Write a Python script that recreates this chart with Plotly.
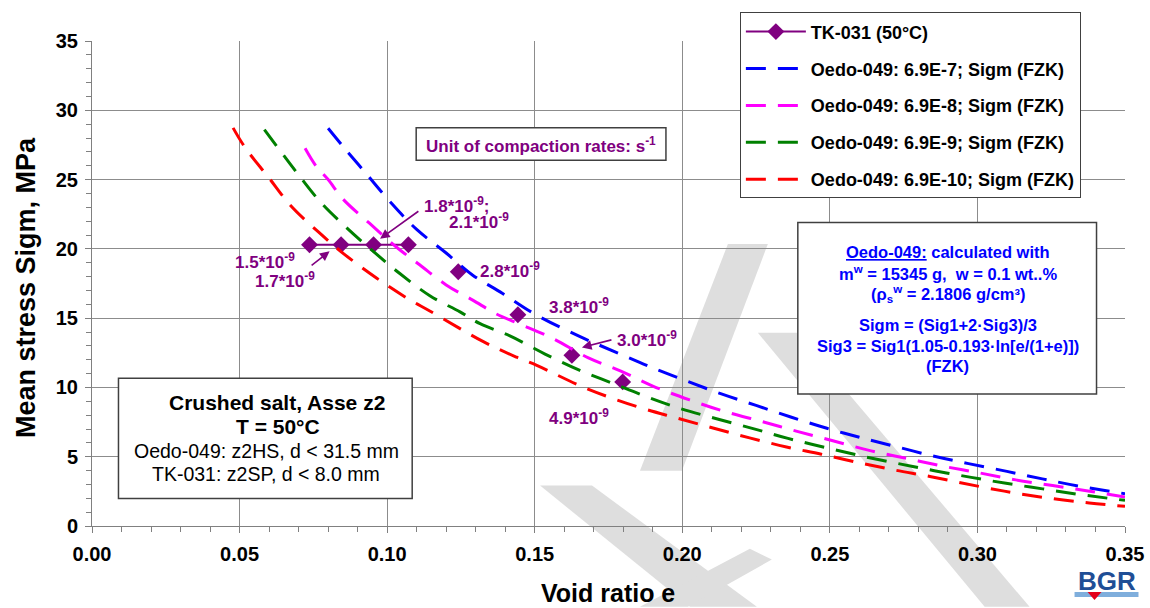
import plotly.graph_objects as go

# ---------------- data ----------------
tk_e = [0.0737, 0.0844, 0.0954, 0.1072, None, 0.1241, None, 0.1443, None, 0.1626, None, 0.1798]
tk_s = [20.3, 20.3, 20.3, 20.3, None, 18.35, None, 15.24, None, 12.32, None, 10.40]

blue_e = [0.080, 0.085, 0.093, 0.101, 0.110, 0.120, 0.129, 0.139, 0.150, 0.165, 0.178, 0.189,
          0.201, 0.213, 0.225, 0.237, 0.249, 0.260, 0.272, 0.285, 0.297, 0.310, 0.322, 0.335, 0.350]
blue_s = [28.7, 27.4, 25.4, 23.4, 21.4, 19.7, 18.1, 16.8, 15.3, 13.7, 12.5, 11.5,
          10.5, 9.55, 8.7, 7.85, 7.05, 6.4, 5.75, 5.05, 4.5, 3.94, 3.40, 2.85, 2.33]

mag_e = [0.0722, 0.076, 0.080, 0.085, 0.094, 0.103, 0.111, 0.120, 0.129, 0.137, 0.144, 0.156,
         0.168, 0.179, 0.190, 0.2025, 0.2144, 0.2268, 0.2386, 0.251, 0.264, 0.276, 0.288,
         0.301, 0.313, 0.3255, 0.338, 0.350]
mag_s = [27.26, 25.95, 25.0, 23.6, 21.85, 20.15, 18.85, 17.4, 16.3, 15.3, 14.65, 13.55,
         12.15, 11.2, 10.1, 9.1, 8.26, 7.55, 6.85, 6.15, 5.42, 4.88, 4.33,
         3.82, 3.33, 2.92, 2.51, 2.09]

green_e = [0.0584, 0.0644, 0.0694, 0.0773, 0.0864, 0.0954, 0.1044, 0.1146, 0.1247, 0.1315,
           0.1416, 0.1535, 0.1653, 0.1766, 0.1879, 0.1997, 0.2116, 0.224, 0.2358, 0.2482,
           0.2606, 0.273, 0.2854, 0.2979, 0.3097, 0.3221, 0.3345, 0.350]
green_s = [28.6, 26.9, 25.5, 23.4, 21.5, 19.8, 18.2, 16.6, 15.45, 14.6,
           13.72, 12.41, 11.23, 10.28, 9.33, 8.45, 7.74, 7.03, 6.32, 5.68,
           5.06, 4.51, 3.99, 3.51, 3.08, 2.68, 2.28, 1.85]

red_e = [0.0478, 0.0519, 0.0598, 0.0672, 0.0768, 0.0852, 0.0965, 0.1067, 0.1146, 0.1326,
         0.1439, 0.1507, 0.1676, 0.1856, 0.198, 0.2104, 0.2228, 0.2353, 0.2471, 0.2595,
         0.2719, 0.2843, 0.3007, 0.3131, 0.3255, 0.3379, 0.350]
red_s = [28.73, 27.3, 25.16, 23.15, 21.2, 19.66, 17.88, 16.45, 15.5, 13.3,
         12.18, 11.59, 9.92, 8.55, 7.8, 7.07, 6.36, 5.70, 5.18, 4.58,
         4.04, 3.56, 2.85, 2.37, 1.97, 1.66, 1.42]

series_names = ["TK-031 (50°C)",
                "Oedo-049: 6.9E-7; Sigm (FZK)",
                "Oedo-049: 6.9E-8; Sigm (FZK)",
                "Oedo-049: 6.9E-9; Sigm (FZK)",
                "Oedo-049: 6.9E-10; Sigm (FZK)"]

rate_labels = ["1.5*10<sup>-9</sup>", "1.7*10<sup>-9</sup>", "1.8*10<sup>-9</sup>;",
               "2.1*10<sup>-9</sup>", "2.8*10<sup>-9</sup>", "3.8*10<sup>-9</sup>",
               "3.0*10<sup>-9</sup>", "4.9*10<sup>-9</sup>"]
rate_label_e = [0.0479, 0.0547, 0.1119, 0.1203, 0.1309, 0.1542, 0.1772, 0.1542]
rate_label_s = [19.16, 17.74, 23.15, 21.98, 18.45, 15.88, 13.46, 7.90]

x_ticks = [0.00, 0.05, 0.10, 0.15, 0.20, 0.25, 0.30, 0.35]
y_ticks = [0, 5, 10, 15, 20, 25, 30, 35]

# ---------------- styling helpers ----------------
FONT = "Liberation Sans, Arial, sans-serif"
PURPLE = "#800080"
W, H = 1150, 608
L, R, T, B = 91.5, 24.5, 34, 82
PW, PH = W - L - R, H - T - B


def X(px):
    return (px - L) / PW


def Y(py):
    return (H - B - py) / PH


def ptext(px, py, txt, size, color, weight="bold", xanchor="center"):
    return dict(x=X(px), y=Y(py), xref="paper", yref="paper", text=txt, showarrow=False,
                xanchor=xanchor, yanchor="middle",
                font=dict(family=FONT, size=size, color=color, weight=weight))


def poly(points, color="#dedede", layer="below"):
    path = "M " + " L ".join(f"{X(a):.5f},{Y(b):.5f}" for a, b in points) + " Z"
    return dict(type="path", xref="paper", yref="paper", path=path,
                line=dict(width=0), fillcolor=color, layer=layer)


fig = go.Figure()

fig.add_trace(go.Scatter(
    x=tk_e, y=tk_s, name=series_names[0], mode="lines+markers",
    line=dict(color=PURPLE, width=2),
    marker=dict(symbol="diamond", size=13, color=PURPLE),
    connectgaps=False, legendgroup="g0"))

curve_cols = ["#0000FF", "#FF00FF", "#008000", "#FF0000"]
curves = [(blue_e, blue_s), (mag_e, mag_s), (green_e, green_s), (red_e, red_s)]
for i, ((ce, cs), col) in enumerate(zip(curves, curve_cols)):
    fig.add_trace(go.Scatter(
        x=ce, y=cs, name=series_names[i + 1], mode="lines",
        line=dict(color=col, width=3, dash="20px,12px", shape="spline"),
        legendgroup=f"g{i+1}"))

annotations = []
for txt, ex, sy in zip(rate_labels, rate_label_e, rate_label_s):
    annotations.append(dict(x=ex, y=sy, xref="x", yref="y", text=txt, showarrow=False,
                            xanchor="left", yanchor="middle",
                            font=dict(family=FONT, size=17, color=PURPLE, weight="bold")))

# arrows (tail -> head) in data coords
arrows = [((0.0739, 18.73), (0.0805, 19.82)),
          ((0.1111, 22.79), (0.0976, 20.73)),
          ((0.1765, 13.46), (0.1660, 12.89))]
for (tx, ty), (hx, hy) in arrows:
    annotations.append(dict(x=hx, y=hy, ax=tx, ay=ty, xref="x", yref="y", axref="x", ayref="y",
                            text="", showarrow=True, arrowhead=2, arrowsize=1.2, arrowwidth=1.6,
                            arrowcolor=PURPLE))

# unit box text
annotations.append(ptext(541, 139, "Unit of compaction rates: s<sup>-1</sup>", 17, PURPLE))

# left info box text
annotations.append(ptext(277, 401, "Crushed salt, Asse z2", 21, "black"))
annotations.append(ptext(278, 425, "T = 50°C", 21, "black"))
annotations.append(ptext(266, 450, "Oedo-049: z2HS, d &lt; 31.5 mm", 19.5, "black", "normal"))
annotations.append(ptext(266, 473, "TK-031: z2SP, d &lt; 8.0 mm", 19.5, "black", "normal"))

# right info box text
right_lines = [("<u>Oedo-049:</u> calculated with", 248),
               ("m<sup>w</sup> = 15345 g,  w = 0.1 wt..%", 269),
               ("(ρ<sub>s</sub><sup>w</sup> = 2.1806 g/cm³)", 291),
               ("Sigm = (Sig1+2·Sig3)/3", 322),
               ("Sig3 = Sig1(1.05-0.193·ln[e/(1+e)])", 343),
               ("(FZK)", 364)]
for txt, py in right_lines:
    annotations.append(ptext(948, py, txt, 16.5, "#0000FF"))

# axis titles
annotations.append(ptext(608, 594, "Void ratio e", 25, "black"))
annotations.append(dict(x=X(26), y=Y(284), xref="paper", yref="paper", text="Mean stress Sigm, MPa",
                        showarrow=False, textangle=-90, xanchor="center", yanchor="middle",
                        font=dict(family=FONT, size=27, color="black", weight="bold")))

# BGR logo text
annotations.append(ptext(1107, 582, "BGR", 26, "#1F4E96"))

shapes = [
    # faint background watermark
    poly([(728, 240), (768, 240), (682, 470), (640, 470)]),
    poly([(540, 485), (592, 485), (757, 608), (690, 608)]),
    poly([(758, 330), (797, 330), (1030, 608), (985, 608)]),
    poly([(640, 608), (688, 608), (772, 560), (750, 549)]),
    # text boxes
    dict(type="rect", xref="paper", yref="paper", x0=X(416), x1=X(666), y0=Y(155), y1=Y(122),
         line=dict(color="#404040", width=1.5), fillcolor="white", layer="above"),
    dict(type="rect", xref="paper", yref="paper", x0=X(118), x1=X(412), y0=Y(498), y1=Y(376),
         line=dict(color="#404040", width=1.5), fillcolor="white", layer="above"),
    dict(type="rect", xref="paper", yref="paper", x0=X(798), x1=X(1097), y0=Y(392), y1=Y(218),
         line=dict(color="#404040", width=1.5), fillcolor="white", layer="above"),
    # BGR logo bar and triangle
    dict(type="rect", xref="paper", yref="paper", x0=X(1075), x1=X(1139), y0=Y(598), y1=Y(593),
         line=dict(width=0), fillcolor="#7FAEDC", layer="above"),
    dict(type="path", xref="paper", yref="paper",
         path=f"M {X(1088)},{Y(593)} L {X(1102)},{Y(593)} L {X(1095)},{Y(601)} Z",
         line=dict(width=0), fillcolor="#E3001B", layer="above"),
]

axis_font = dict(family=FONT, size=20, color="black", weight="bold")

fig.update_layout(
    width=W, height=H,
    margin=dict(l=L, r=R, t=T, b=B, pad=0),
    paper_bgcolor="white", plot_bgcolor="white",
    showlegend=True,
    legend=dict(x=X(740), y=Y(5), xanchor="left", yanchor="top",
                bgcolor="white", bordercolor="#404040", borderwidth=1,
                font=dict(family=FONT, size=18, color="black", weight="bold"),
                tracegroupgap=10.5, itemwidth=60),
    annotations=annotations,
    shapes=shapes,
    xaxis=dict(range=[0, 0.35], tickvals=x_ticks, tickformat=".2f", automargin=False,
               showgrid=True, gridcolor="#8c8c8c", gridwidth=1,
               showline=True, linecolor="#808080", linewidth=1,
               ticks="outside", ticklen=6, tickcolor="#808080",
               minor=dict(dtick=0.01, ticks="outside", ticklen=5, tickcolor="#808080", showgrid=False),
               tickfont=axis_font, ticklabelstandoff=4, zeroline=False),
    yaxis=dict(range=[0, 35], tickvals=y_ticks, automargin=False,
               showgrid=True, gridcolor="#8c8c8c", gridwidth=1,
               showline=True, linecolor="#808080", linewidth=1,
               ticks="outside", ticklen=6, tickcolor="#808080",
               minor=dict(dtick=1, ticks="outside", ticklen=5, tickcolor="#808080", showgrid=False),
               tickfont=axis_font, ticklabelstandoff=3, zeroline=False),
)

fig.write_html("out.html")
